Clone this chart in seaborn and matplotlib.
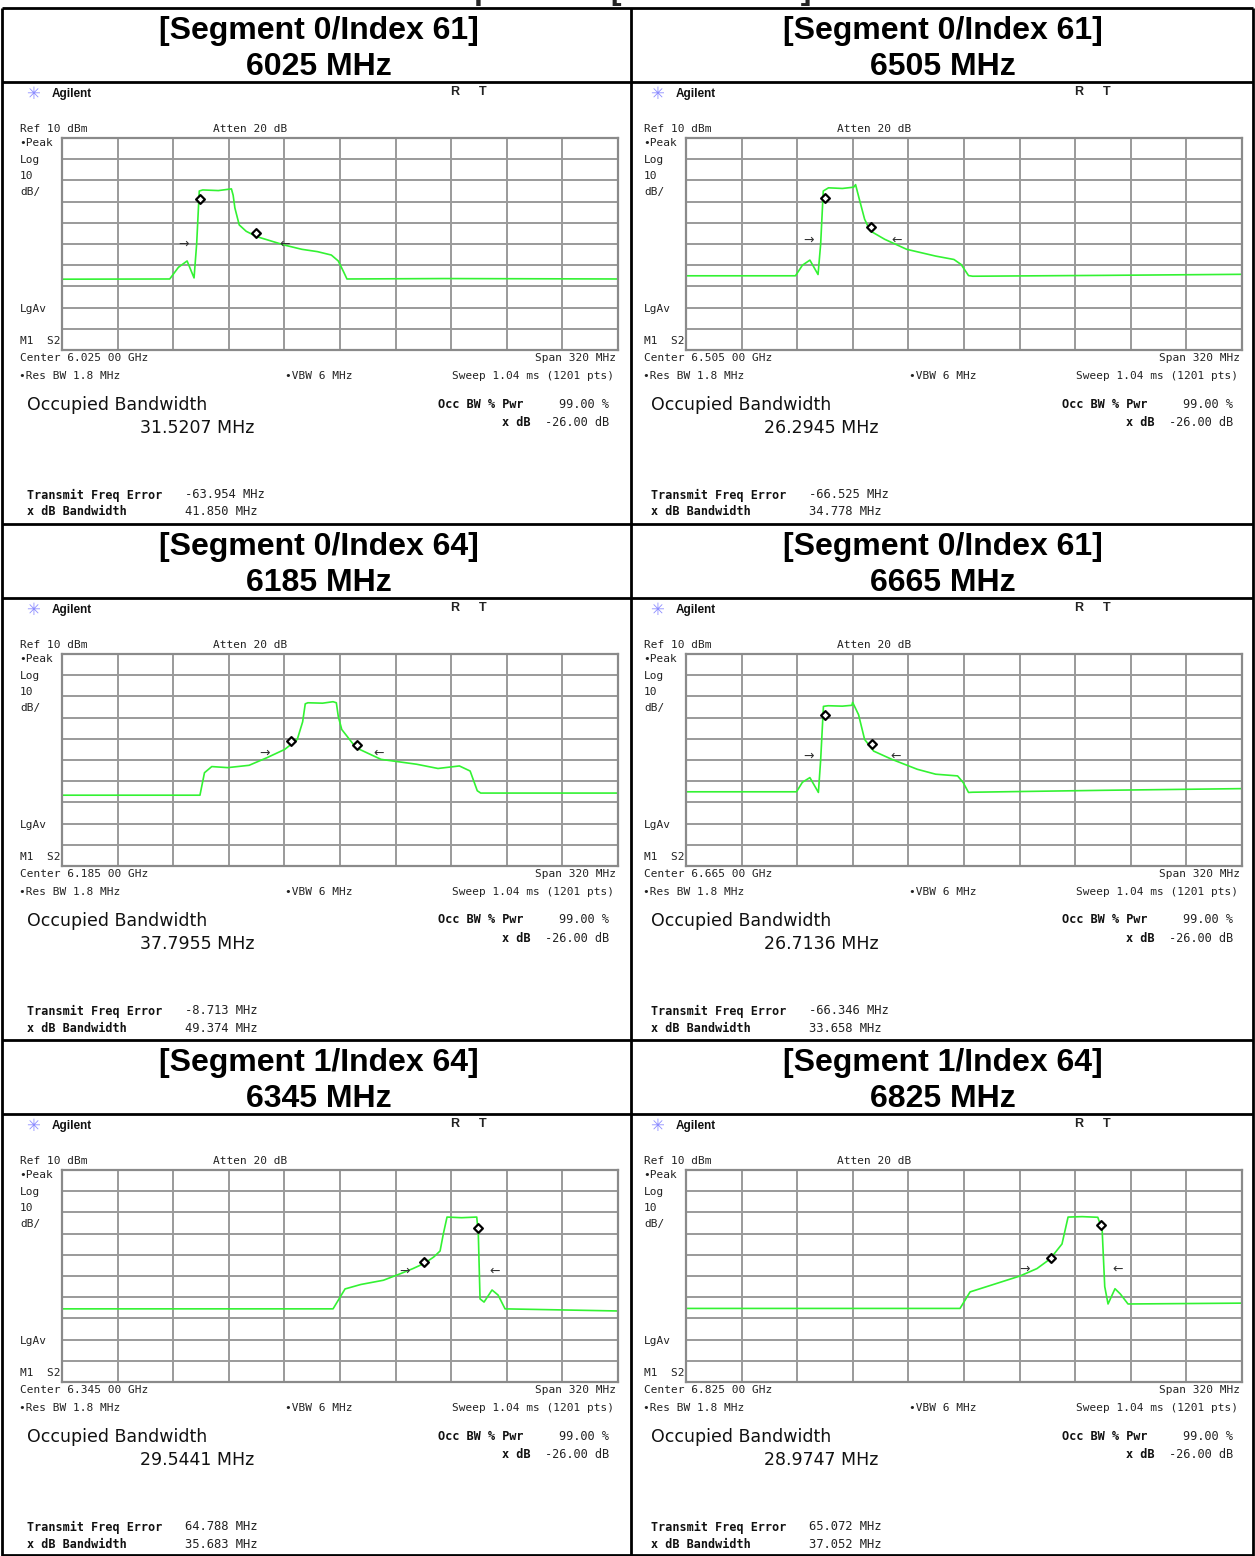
import numpy as np
import matplotlib
matplotlib.use("Agg")
import matplotlib.pyplot as plt
import seaborn as sns
from matplotlib.lines import Line2D

# ---- data (offset from centre in MHz, level in dBm) ----
titles = ["[Segment 0/Index 61]", "[Segment 0/Index 61]",
          "[Segment 0/Index 64]", "[Segment 0/Index 61]",
          "[Segment 1/Index 64]", "[Segment 1/Index 64]"]
chan_mhz = ["6025", "6505", "6185", "6665", "6345", "6825"]
center_ghz = ["6.025 00", "6.505 00", "6.185 00", "6.665 00", "6.345 00", "6.825 00"]
occ_bw = ["31.5207", "26.2945", "37.7955", "26.7136", "29.5441", "28.9747"]
freq_err = ["-63.954", "-66.525", "-8.713", "-66.346", "64.788", "65.072"]
xdb_bw = ["41.850", "34.778", "49.374", "33.658", "35.683", "37.052"]

f6025_x = [-160, -98, -93, -88, -84, -82.5, -81, -79, -70, -62.5, -61.5, -60.5, -58, -54, -48, -40, -32, -22, -13, -5, -1, 2, 4, 60, 160]
f6025_y = [-56.6, -56.5, -51, -48, -56, -40, -15, -14.5, -14.8, -14, -17, -23, -31, -34, -36.5, -38.5, -40.5, -42.5, -43.6, -45.2, -48, -53, -56.5, -56.3, -56.5]

f6505_x = [-160, -97, -93, -88.7, -84, -82.5, -81, -78, -70, -63.5, -62.4, -60.3, -57.2, -54, -45.6, -33, -16.3, -5.8, -1.6, 2.6, 5, 80, 160]
f6505_y = [-55, -55, -50, -47.6, -54.4, -40, -15, -13.5, -13.8, -13.2, -12, -18.7, -28.3, -33.8, -37.8, -42.5, -45.7, -47.3, -49.7, -54.9, -55.2, -54.8, -54.3]

f6185_x = [-160, -80.6, -78, -73.8, -64.6, -52.3, -42, -31.8, -24.6, -21.5, -20, -18.5, -10, -4, -2.1, -1, 1, 9.2, 23.6, 44.1, 56.4, 68.7, 74.9, 79, 81, 160]
f6185_y = [-56.6, -56.6, -46, -43.1, -43.6, -42.5, -38.9, -35, -30.3, -22, -13.5, -13, -13.2, -12.5, -13, -19.4, -25.6, -34.2, -39.7, -42, -44, -42.8, -45.2, -54.5, -55.6, -55.6]

f6665_x = [-160, -96.4, -93, -88.7, -83.8, -82.5, -80.9, -78.2, -70, -64.5, -64.1, -60.7, -57.2, -52, -41.5, -26.8, -16.3, -3.7, -0.5, 2.6, 5, 80, 160]
f6665_y = [-55, -55, -50.5, -48.3, -55.3, -40, -14.7, -14.4, -14.6, -14.2, -12.8, -18.6, -30.3, -35.8, -39.7, -44.4, -46.7, -47.5, -50.6, -55.3, -55.2, -54.3, -53.5]

f6345_x = [-160, -4, -2.9, 2.9, 12, 25, 34.5, 42, 48.9, 54, 57.6, 59.5, 61.6, 70, 78.7, 79.6, 80.6, 82.9, 87.5, 91, 95, 160]
f6345_y = [-55.5, -55.5, -54, -46.1, -44, -42, -39, -36.5, -33.9, -31, -28.2, -20, -12.2, -12.5, -12.2, -20, -50.8, -52.3, -46.6, -49, -55.5, -56.5]

f6825_x = [-160, -2.3, 3.5, 15, 32.2, 42, 49.5, 56.4, 59.9, 68, 77, 79.5, 81, 82.9, 86.9, 90, 94.4, 160]
f6825_y = [-55.3, -55.3, -47.5, -44.5, -40, -36.5, -32, -24.9, -12.2, -12, -12.3, -18, -45, -53.2, -46, -48.5, -53.2, -52.8]

# OBW markers (diamonds) and x-dB arrows
mk_x = [[-80.6, -48.3], [-79.8, -53.6], [-28.1, 9.6], [-79.8, -53.0], [48.1, 79.4], [50.1, 78.9]]
mk_y = [[-18.9, -35.0], [-18.3, -32.2], [-31.1, -33.1], [-18.6, -32.3], [-33.4, -17.4], [-31.5, -16.0]]
arr_x = [[-90.2, -31.7], [-89.7, -38.9], [-43.7, 22.0], [-89.7, -39.3], [37.4, 89.2], [35.1, 88.6]]
arr_y = [-40.0, -38.3, -37.0, -38.1, -37.6, -36.7]

traces_x = [f6025_x, f6505_x, f6185_x, f6665_x, f6345_x, f6825_x]
traces_y = [f6025_y, f6505_y, f6185_y, f6665_y, f6345_y, f6825_y]

# ---- figure in pixel coordinates ----
W, H = 1255, 1556
sns.set_style("white")
plt.rcParams['font.family'] = ['DejaVu Sans']

fig = plt.figure(figsize=(W / 100, H / 100), dpi=100)


def fx(px):
    return px / W


def fy(py):
    return 1 - py / H


def line(x0, y0, x1, y1, color='black', lw=2.0):
    fig.add_artist(Line2D([fx(x0), fx(x1)], [fy(y0), fy(y1)], transform=fig.transFigure,
                          color=color, lw=lw, solid_capstyle='butt'))


def txt(x, y, s, size=8, ha='left', weight='normal', family='DejaVu Sans Mono', color='#222222', **kw):
    fig.text(fx(x), fy(y), s, ha=ha, va='center', fontsize=size, fontweight=weight,
             family=family, color=color, **kw)


HEAD = 'Liberation Sans'

# heading of the page, mostly cut off above the table
fig.text(fx(603), fy(-1), "Occupied BW [6 GHz Band]", ha='center', va='baseline',
         fontsize=23, fontweight='bold', family=HEAD)

ROW = 516
COL = 624


def draw_panel(i, ox, oy):
    # header cell
    cx = ox + 319
    txt(cx, oy + 23, titles[i], size=23, ha='center', weight='bold', family=HEAD, color='black')
    txt(cx, oy + 59, f"{chan_mhz[i]} MHz", size=23, ha='center', weight='bold', family=HEAD, color='black')

    top = oy + 74  # top of screenshot area
    txt(ox + 33, top + 12, "\u2733", size=12, ha='center', family='DejaVu Sans', color='#8c8cff')
    txt(ox + 52, top + 12, "Agilent", size=8.5, weight='bold', family='Liberation Sans', color='#111111')
    txt(ox + 455, top + 10, "R", size=9, ha='center', weight='bold', family='Liberation Sans')
    txt(ox + 483, top + 10, "T", size=9, ha='center', weight='bold', family='Liberation Sans')

    txt(ox + 20, top + 47, "Ref 10 dBm")
    txt(ox + 213, top + 47, "Atten 20 dB")
    txt(ox + 19, top + 61, "\u2022Peak")
    txt(ox + 20, top + 78, "Log")
    txt(ox + 20, top + 94, "10")
    txt(ox + 20, top + 110, "dB/")
    txt(ox + 20, top + 227, "LgAv")
    txt(ox + 20, top + 259, "M1  S2")

    txt(ox + 20, top + 276, f"Center {center_ghz[i]} GHz")
    txt(ox + 616, top + 276, "Span 320 MHz", ha='right')
    txt(ox + 19, top + 294, "\u2022Res BW 1.8 MHz")
    txt(ox + 285, top + 294, "\u2022VBW 6 MHz")
    txt(ox + 614, top + 294, "Sweep 1.04 ms (1201 pts)", ha='right')

    txt(ox + 27, top + 323, "Occupied Bandwidth", size=12.5, family='DejaVu Sans', color='#111111')
    txt(ox + 140, top + 346, f"{occ_bw[i]} MHz", size=12.5, family='DejaVu Sans', color='#111111')
    txt(ox + 438, top + 322, "Occ BW % Pwr", size=8.6, weight='bold', color='#111111')
    txt(ox + 609, top + 322, "99.00 %", size=8.6, ha='right')
    txt(ox + 531, top + 340, "x dB", size=8.6, ha='right', weight='bold', color='#111111')
    txt(ox + 609, top + 340, "-26.00 dB", size=8.6, ha='right')

    txt(ox + 27, top + 413, "Transmit Freq Error", size=8.5, weight='bold', color='#111111')
    txt(ox + 185, top + 413, f"{freq_err[i]} MHz", size=8.7)
    txt(ox + 27, top + 430, "x dB Bandwidth", size=8.5, weight='bold', color='#111111')
    txt(ox + 185, top + 430, f"{xdb_bw[i]} MHz", size=8.7)

    # graticule
    gx0, gx1 = ox + 62, ox + 618
    gy0, gy1 = top + 56, top + 268
    ax = fig.add_axes([fx(gx0), fy(gy1), (gx1 - gx0) / W, (gy1 - gy0) / H])
    sns.lineplot(x=traces_x[i], y=traces_y[i], ax=ax, color='#33f233', lw=1.2,
                 sort=False, estimator=None)
    ax.scatter(mk_x[i], mk_y[i], marker='D', s=20, facecolors='white',
               edgecolors='black', linewidths=1.6, zorder=5)
    ax.text(arr_x[i][0], arr_y[i], "\u2192", ha='center', va='center', fontsize=9, color='#333333')
    ax.text(arr_x[i][1], arr_y[i], "\u2190", ha='center', va='center', fontsize=9, color='#333333')
    ax.set_xlim(-160, 160)
    ax.set_ylim(-90, 10)
    ax.set_xticks(np.arange(-160, 161, 32))
    ax.set_yticks(np.arange(-90, 11, 10))
    ax.grid(True, color='#9a9a9a', lw=1.4)
    ax.set_axisbelow(True)
    ax.tick_params(length=0, labelbottom=False, labelleft=False)
    ax.set_xlabel('')
    ax.set_ylabel('')
    for sp in ax.spines.values():
        sp.set_color('#8a8a8a')
        sp.set_linewidth(1.6)


for i in range(6):
    r, c = divmod(i, 2)
    draw_panel(i, c * COL, 8 + r * ROW)

# table rules
for r in range(3):
    y0 = 8 + r * ROW
    line(2, y0, 1253, y0)
    line(2, y0 + 74, 1253, y0 + 74)
line(2, H - 1, 1253, H - 1)
line(2, 8, 2, H)
line(1253, 8, 1253, H)
line(631, 8, 631, H)

fig.savefig("out.png", dpi=100)
